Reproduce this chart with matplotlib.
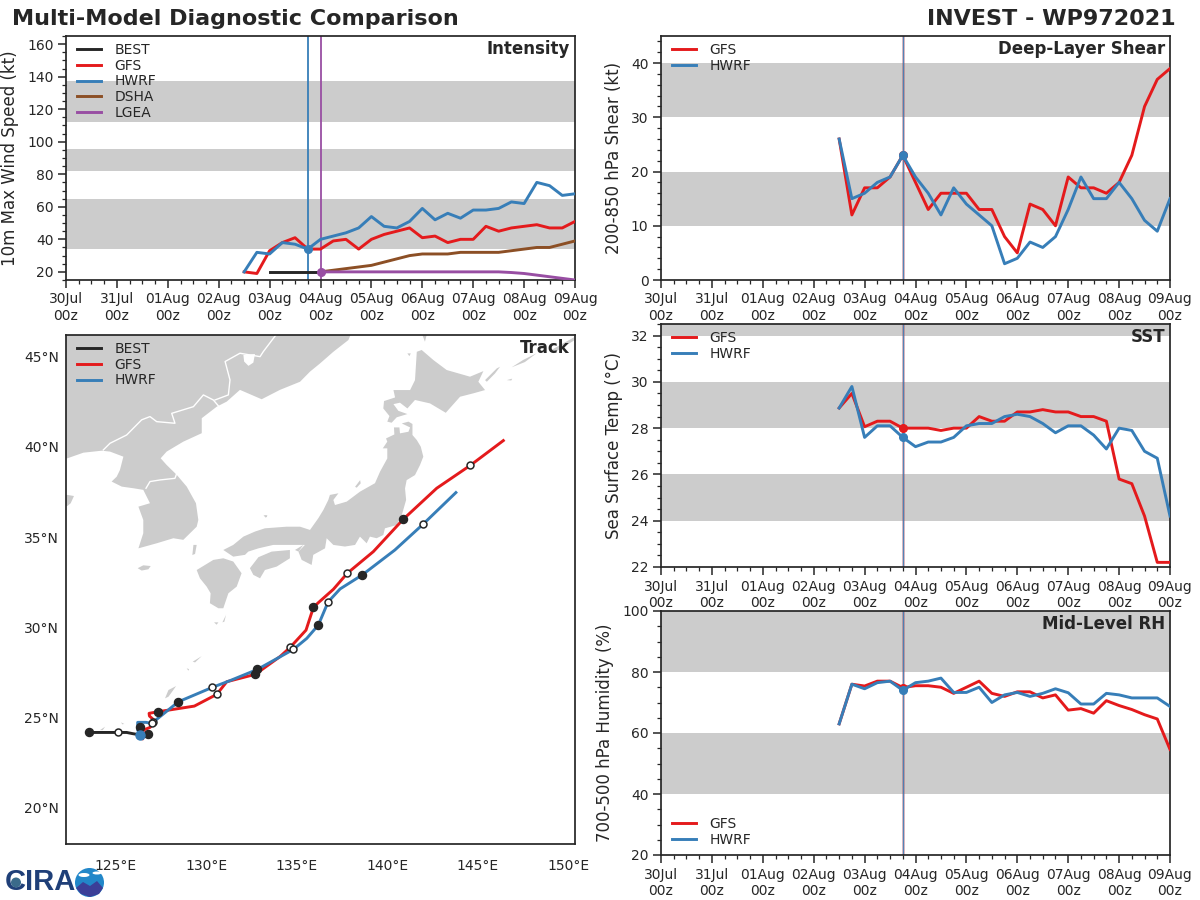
import pandas as pd
import matplotlib
matplotlib.use('Agg')
import matplotlib.pyplot as plt
import matplotlib.dates as mdates
from matplotlib.patches import Circle, Ellipse, Polygon
from matplotlib.ticker import AutoMinorLocator, MultipleLocator

# 6-hourly forecast times
times = pd.date_range('2021-08-02 12:00', '2021-08-09 00:00', freq='6h')
t_best = pd.date_range('2021-08-03 00:00', '2021-08-04 00:00', freq='6h')
t_stat = pd.date_range('2021-08-04 00:00', '2021-08-09 00:00', freq='6h')
t_hwrf = pd.Timestamp('2021-08-03 18:00')
t_lgea = pd.Timestamp('2021-08-04 00:00')

# intensity (kt)
best_vmax = [20, 20, 20, 20, 20]
gfs_vmax = [20, 19, 33, 38, 41, 34, 34, 39, 40, 34, 40, 43, 45, 47, 41, 42, 38, 40, 40, 48, 45, 47, 48, 49, 47, 47, 51]
hwrf_vmax = [20, 32, 31, 38, 37, 34, 40, 42, 44, 47, 54, 48, 47, 51, 59, 52, 56, 53, 58, 58, 59, 63, 62, 75, 73, 67, 68]
dsha_vmax = [20, 21, 22, 23, 24, 26, 28, 30, 31, 31, 31, 32, 32, 32, 32, 33, 34, 35, 35, 37, 39]
lgea_vmax = [20, 20, 20, 20, 20, 20, 20, 20, 20, 20, 20, 20, 20, 20, 20, 19.6, 19, 18, 17, 16, 15]

# shear (kt)
gfs_shear = [26, 12, 17, 17, 19, 23, 18, 13, 16, 16, 16, 13, 13, 8, 5, 14, 13, 10, 19, 17, 17, 16, 18, 23, 32, 37, 39]
hwrf_shear = [26, 15, 16, 18, 19, 23, 19, 16, 12, 17, 14, 12, 10, 3, 4, 7, 6, 8, 13, 19, 15, 15, 18, 15, 11, 9, 15]

# sst (C)
gfs_sst = [28.87, 29.5, 28.06, 28.3, 28.3, 28.0, 28.0, 28.0, 27.9, 28.0, 28.0, 28.5, 28.3, 28.3, 28.7, 28.7, 28.8, 28.7,
           28.7, 28.5, 28.5, 28.3, 25.8, 25.6, 24.2, 22.2, 22.2]
hwrf_sst = [28.87, 29.8, 27.6, 28.1, 28.1, 27.6, 27.2, 27.4, 27.4, 27.6, 28.1, 28.2, 28.2, 28.5, 28.6, 28.5, 28.2, 27.8,
            28.1, 28.1, 27.7, 27.1, 28.0, 27.9, 27.0, 26.7, 24.2]

# rh (%)
gfs_rh = [63, 76, 75.4, 77, 77, 74.9, 75.5, 75.5, 75, 73, 75, 77, 73, 72, 73.5, 73.5, 71.5, 72.5, 67.5, 68, 66.5, 70.6,
          69, 67.7, 66, 64.6, 54.6]
hwrf_rh = [63, 76, 74.5, 76.5, 77, 74, 76.5, 77, 78, 73.3, 73.3, 75, 70, 72.5, 73.3, 72, 73, 74.5, 73.2, 69.5, 69.5,
           73, 72.5, 71.5, 71.5, 71.5, 68.7]

# tracks
best_lon = [123.54, 125.14, 125.6, 125.9, 126.36]
best_lat = [24.18, 24.18, 24.18, 24.12, 24.04]
gfs_lon = [126.39, 126.49, 126.52, 126.89, 127.17, 126.86, 126.84, 127.35, 129.34, 130.58, 131.13, 132.71, 134.07,
           134.63, 135.51, 135.92, 136.19, 137.02, 137.79, 139.23, 140.88, 142.73, 144.59, 146.41]
gfs_lat = [23.94, 23.82, 24.31, 24.46, 24.81, 25.09, 25.24, 25.33, 25.64, 26.29, 26.99, 27.4, 28.38, 28.89, 29.85,
           31.11, 31.37, 32.11, 33.0, 34.2, 35.99, 37.71, 38.98, 40.35]
hwrf_lon = [126.36, 126.21, 126.21, 126.67, 126.98, 128.46, 130.34, 131.31, 132.82, 134.81, 135.55, 136.19, 136.73,
            137.39, 138.62, 140.42, 141.99, 143.79]
hwrf_lat = [24.04, 24.31, 24.74, 24.74, 24.68, 25.88, 26.68, 27.05, 27.67, 28.78, 29.39, 30.13, 31.41, 32.13, 32.91,
            34.29, 35.73, 37.47]

# 00z / 12z markers on the tracks
filled_lon = [123.54, 126.76, 127.35, 132.71, 135.92, 140.88, 126.36, 128.46, 132.82, 136.19, 138.62]
filled_lat = [24.18, 24.07, 25.33, 27.4, 31.11, 35.99, 24.5, 25.88, 27.67, 30.13, 32.91]
open_lon = [125.14, 127.08, 130.58, 134.63, 137.79, 144.59, 126.98, 130.34, 134.81, 136.73, 141.99]
open_lat = [24.18, 24.78, 26.29, 28.89, 33.0, 38.98, 24.68, 26.68, 28.78, 31.41, 35.73]

# land outlines, lon/lat
asia = [(121, 39.37), (122.33, 39.37), (123.21, 39.68), (124.22, 39.79), (124.68, 39.74), (125.42, 39.46),
        (125.23, 38.72), (125.05, 38.35), (124.77, 38.08), (125.33, 37.8), (125.97, 37.71), (126.52, 37.62),
        (126.89, 36.88), (126.25, 36.69), (126.52, 35.95), (126.52, 35.22), (126.25, 34.38), (127.26, 34.66),
        (128.18, 34.94), (128.73, 34.85), (129.47, 35.58), (129.56, 35.95), (129.43, 36.88), (128.92, 37.8),
        (128.37, 38.45), (127.81, 39.0), (127.48, 39.37), (127.81, 39.74), (128.73, 40.29), (129.75, 40.76),
        (129.75, 41.59), (130.58, 42.23), (131.13, 42.51), (131.86, 43.16), (133.06, 42.64), (134.07, 43.16),
        (135.18, 43.61), (135.73, 44.17), (136.29, 44.63), (137.02, 45.27), (137.85, 45.92), (138.3, 47), (121, 47)]
shandong = [(121, 37.34), (122.33, 37.34), (122.69, 37.28), (122.51, 36.88), (122.33, 36.73), (121, 36.73)]
honshu = [(139.93, 40.47), (140.39, 40.69), (140.37, 41.08), (140.67, 41.08), (140.7, 40.75), (141.17, 40.84),
          (141.26, 41.08), (140.8, 41.3), (141.17, 41.4), (141.39, 41.27), (141.39, 40.66), (141.63, 40.38),
          (141.85, 40.01), (141.99, 39.46), (141.81, 39.0), (141.53, 38.44), (141.07, 38.16), (140.98, 37.7),
          (141.04, 37.06), (140.8, 36.22), (140.52, 35.67), (139.87, 35.49), (139.78, 35.12), (139.41, 34.94),
          (139.04, 35.03), (138.86, 34.66), (138.49, 35.03), (138.22, 34.57), (137.66, 34.48), (137.02, 34.57),
          (136.65, 34.94), (136.56, 34.38), (135.91, 34.02), (135.82, 33.46), (135.27, 33.74), (135.09, 34.2),
          (135.45, 34.57), (134.9, 34.57), (133.7, 34.57), (132.88, 34.38), (132.32, 34.2), (132.14, 34.02),
          (131.49, 33.92), (130.94, 34.29), (131.49, 34.57), (132.05, 35.03), (132.69, 35.31), (133.24, 35.49),
          (134.44, 35.58), (135.18, 35.58), (135.73, 35.4), (136.19, 36.05), (136.47, 36.51), (136.74, 37.06),
          (136.83, 37.34), (137.3, 37.43), (137.02, 37.06), (137.11, 36.78), (137.76, 36.97), (138.49, 37.52),
          (139.32, 37.99), (139.6, 38.63), (140.0, 39.36), (140.0, 39.92), (139.75, 39.92), (140.0, 40.29)]
hokkaido = [(140.0, 41.4), (140.12, 41.71), (139.78, 42.13), (139.82, 42.54), (140.43, 42.74), (140.34, 43.15),
            (141.26, 43.15), (141.53, 43.7), (141.63, 45.27), (141.9, 45.37), (142.55, 44.81), (143.28, 44.26),
            (144.57, 43.89), (145.31, 44.2), (145.03, 43.61), (145.4, 43.15), (144.76, 42.97), (144.02, 42.78),
            (143.23, 41.89), (142.36, 42.41), (141.53, 42.6), (141.11, 42.13), (140.7, 42.45), (140.34, 42.37),
            (140.61, 42.0), (141.11, 41.82), (140.52, 41.64), (140.24, 41.34)]
kyushu = [(129.47, 33.18), (129.93, 33.46), (130.39, 33.74), (130.94, 33.83), (131.49, 33.65), (131.95, 33.0),
          (131.68, 32.26), (131.22, 31.89), (130.94, 31.06), (130.67, 31.06), (130.2, 31.34), (130.24, 31.89),
          (130.02, 32.26), (129.65, 32.72)]
shikoku = [(132.41, 33.28), (132.88, 33.89), (133.61, 34.2), (134.62, 34.29), (134.62, 33.83), (133.89, 33.37),
           (133.24, 33.18), (132.97, 32.72), (132.6, 32.91)]
small_islands = [
    [(126.21, 33.28), (126.52, 33.44), (126.93, 33.4), (126.8, 33.22), (126.43, 33.15)],
    [(129.29, 34.57), (129.47, 34.57), (129.38, 34.07), (129.23, 34.01)],
    [(133.15, 36.23), (133.37, 36.21), (133.34, 36.1)],
    [(133.19, 36.18), (133.37, 36.18), (133.28, 36.08)],
    [(134.9, 34.29), (135.36, 34.57), (135.09, 34.2)],
    [(138.22, 37.79), (138.5, 38.16), (138.53, 37.98), (138.31, 37.74)],
    [(141.11, 45.18), (141.3, 45.18), (141.22, 45.03)],
    [(145.4, 43.7), (146.05, 44.35), (146.23, 44.44), (145.95, 44.07), (145.5, 43.61)],
    [(146.6, 43.7), (146.9, 43.78), (146.85, 43.68)],
    [(146.87, 44.41), (147.51, 44.82), (148.25, 45.19), (147.6, 44.7)],
    [(148.99, 45.33), (150.31, 46.07), (150.31, 45.89), (149.17, 45.19)],
    [(141.9, 46.3), (142.2, 46.3), (142.08, 45.83)],
    [(130.89, 30.28), (131.09, 30.69), (131.0, 30.32)],
    [(130.43, 30.28), (130.67, 30.28), (130.57, 30.15)],
    [(129.25, 28.1), (129.75, 28.41), (129.56, 28.23), (129.38, 28.06)],
    [(128.92, 27.73), (129.05, 27.69), (129.01, 27.6)],
    [(127.72, 26.07), (127.91, 26.53), (128.33, 26.75), (128.18, 26.53), (127.91, 26.16)],
    [(125.29, 24.74), (125.47, 24.65), (125.36, 24.63)],
    [(124.13, 24.31), (124.41, 24.5), (124.28, 24.31)],
]
borders = [
    [(124.31, 39.83), (124.68, 40.2), (125.6, 40.66), (126.43, 41.5), (126.89, 41.68), (127.26, 41.4), (128.27, 41.31),
     (128.09, 41.86), (129.29, 42.23), (129.84, 42.88), (130.39, 42.6), (130.67, 42.27)],
    [(130.48, 42.6), (131.22, 42.88), (131.31, 43.71), (131.04, 44.73), (131.86, 45.19), (132.97, 45.0),
     (133.15, 45.28), (133.71, 46.02), (133.85, 46.2)],
    [(126.67, 37.71), (126.89, 38.08), (127.45, 38.17), (128.27, 38.26), (128.37, 38.54)],
]
khanka = [(132.05, 45.09), (132.69, 45.15), (132.6, 44.67), (132.33, 44.49), (132.09, 44.73)]

# tick labels
lon_ticks = [125, 130, 135, 140, 145, 150]
lat_ticks = [20, 25, 30, 35, 40, 45]

# shaded ranges
vmax_bands = [(34, 64.5), (82, 95.5), (112, 137.5)]
shear_bands = [(10, 20), (30, 40)]
sst_bands = [(24, 26), (28, 30), (32, 33)]
rh_bands = [(40, 60), (80, 100)]

RED = '#e41a1c'
BLUE = '#377eb8'
BROWN = '#8c4f25'
PURPLE = '#984ea3'
BLACK = '#262626'
GRAY = '#cccccc'
LW = 2.1

plt.rcParams['font.family'] = 'DejaVu Sans'
plt.rcParams['text.color'] = BLACK
plt.rcParams['axes.labelcolor'] = BLACK
plt.rcParams['axes.edgecolor'] = BLACK
plt.rcParams['xtick.color'] = BLACK
plt.rcParams['ytick.color'] = BLACK
plt.rcParams['axes.linewidth'] = 1.25

fig = plt.figure(figsize=(12, 9), dpi=100)


def panel(left, top, right, bottom):
    return fig.add_axes([left / 1200, 1 - bottom / 900, (right - left) / 1200, (bottom - top) / 900])


def add_legend(ax, loc='upper left'):
    # nudge a few pixels towards the axes edge
    h = ax.bbox.height
    anchor = (0, 1 + 4 / h) if loc == 'upper left' else (0, -3 / h)
    ax.legend(loc=loc, bbox_to_anchor=anchor, frameon=False, fontsize=10, labelspacing=0.12, handlelength=1.7,
              handletextpad=1.0, borderaxespad=0.2, borderpad=0.6)


def time_axis(ax, bands, ylim, ystep, ylabel, title):
    for lo, hi in bands:
        ax.axhspan(lo, hi, color=GRAY, lw=0, zorder=0)
    ax.set_xlim(pd.Timestamp('2021-07-30'), pd.Timestamp('2021-08-09'))
    ax.set_ylim(*ylim)
    ax.xaxis.set_major_locator(mdates.DayLocator())
    ax.xaxis.set_minor_locator(mdates.HourLocator(byhour=[6, 12, 18]))
    ax.xaxis.set_major_formatter(mdates.DateFormatter('%d%b\n%Hz'))
    ax.yaxis.set_major_locator(MultipleLocator(ystep))
    ax.yaxis.set_minor_locator(AutoMinorLocator())
    ax.tick_params(which='major', length=6, width=1.1, labelsize=10, pad=3)
    ax.tick_params(which='minor', length=3, width=0.9)
    ax.set_ylabel(ylabel, fontsize=12, labelpad=6)
    ax.text(0.99, 0.985, title, transform=ax.transAxes, ha='right', va='top', fontsize=12, fontweight='bold')


def models(ax, gfs, hwrf, loc='upper left'):
    ax.axvline(t_hwrf, color=RED, lw=1.8, alpha=0.35, zorder=2)
    ax.axvline(t_hwrf, color=BLUE, lw=1.0, alpha=0.85, zorder=2)
    ax.plot(times, gfs, color=RED, lw=LW, label='GFS', zorder=3)
    ax.plot(times, hwrf, color=BLUE, lw=LW, label='HWRF', zorder=4)
    i = list(times).index(t_hwrf)
    ax.plot(t_hwrf, gfs[i], 'o', color=RED, ms=5.5, zorder=3)
    ax.plot(t_hwrf, hwrf[i], 'o', color=BLUE, ms=5.5, zorder=4)
    add_legend(ax, loc)


# intensity
ax1 = panel(66, 36, 575, 280)
time_axis(ax1, vmax_bands, (15, 165), 20, '10m Max Wind Speed (kt)', 'Intensity')
ax1.axvline(t_hwrf, color=BLUE, lw=1.3, zorder=2)
ax1.axvline(t_lgea, color=PURPLE, lw=1.3, zorder=2)
ax1.plot(t_best, best_vmax, color=BLACK, lw=LW, label='BEST', zorder=3)
ax1.plot(times, gfs_vmax, color=RED, lw=LW, label='GFS', zorder=3)
ax1.plot(times, hwrf_vmax, color=BLUE, lw=LW, label='HWRF', zorder=4)
ax1.plot(t_stat, dsha_vmax, color=BROWN, lw=LW, label='DSHA', zorder=3)
ax1.plot(t_stat, lgea_vmax, color=PURPLE, lw=LW, label='LGEA', zorder=4)
ax1.plot(t_hwrf, hwrf_vmax[5], 'o', color=BLUE, ms=5.5, zorder=5)
ax1.plot(t_lgea, lgea_vmax[0], 'o', color=PURPLE, ms=5.5, zorder=5)
add_legend(ax1)

# shear
ax2 = panel(661, 36, 1170, 280)
time_axis(ax2, shear_bands, (0, 45), 10, '200-850 hPa Shear (kt)', 'Deep-Layer Shear')
models(ax2, gfs_shear, hwrf_shear)

# sst
ax3 = panel(661, 324, 1170, 567)
time_axis(ax3, sst_bands, (22, 32.5), 2, 'Sea Surface Temp (°C)', 'SST')
models(ax3, gfs_sst, hwrf_sst)

# rh
ax4 = panel(661, 611, 1170, 855)
time_axis(ax4, rh_bands, (20, 100), 20, '700-500 hPa Humidity (%)', 'Mid-Level RH')
models(ax4, gfs_rh, hwrf_rh, 'lower left')

# track map
ax5 = panel(66, 335, 575, 844)
for shape in [asia, shandong, honshu, hokkaido, kyushu, shikoku] + small_islands:
    ax5.add_patch(Polygon(shape, closed=True, fc=GRAY, ec='none', zorder=1))
ax5.add_patch(Polygon(khanka, closed=True, fc='white', ec='none', zorder=2))
for line in borders:
    ax5.plot([p[0] for p in line], [p[1] for p in line], color='white', lw=1.0, zorder=2)
ax5.plot(best_lon, best_lat, color=BLACK, lw=LW, label='BEST', zorder=3)
ax5.plot(gfs_lon, gfs_lat, color=RED, lw=LW, label='GFS', zorder=3)
ax5.plot(hwrf_lon, hwrf_lat, color=BLUE, lw=LW, label='HWRF', zorder=4)
ax5.plot(filled_lon, filled_lat, 'o', color=BLACK, ms=5.8, ls='none', zorder=5)
ax5.plot(open_lon, open_lat, 'o', mfc='white', mec=BLACK, mew=1.1, ms=5, ls='none', zorder=5)
ax5.plot(hwrf_lon[0], hwrf_lat[0], 'o', color=BLUE, ms=6.5, zorder=6)
ax5.set_xlim(122.25, 150.37)
ax5.set_ylim(18.0, 46.2)
ax5.set_xticks(lon_ticks)
ax5.set_xticklabels([f'{v}°E' for v in lon_ticks])
ax5.set_yticks(lat_ticks)
ax5.set_yticklabels([f'{v}°N' for v in lat_ticks])
ax5.tick_params(length=0, labelsize=10, pad=11)
ax5.tick_params(axis='y', pad=5)
ax5.text(0.99, 0.993, 'Track', transform=ax5.transAxes, ha='right', va='top', fontsize=12, fontweight='bold')
add_legend(ax5)

fig.text(12 / 1200, 1 - 19 / 900, 'Multi-Model Diagnostic Comparison', fontsize=16, fontweight='bold', va='center')
fig.text(1176 / 1200, 1 - 19 / 900, 'INVEST - WP972021', fontsize=16, fontweight='bold', va='center', ha='right')

# logo, roughly
logo = fig.add_axes([0, 0, 110 / 1200, 40 / 900])
logo.set_xlim(0, 110)
logo.set_ylim(40, 0)
logo.axis('off')
logo.text(5, 22.5, 'CIRA', fontsize=21, fontweight='bold', color='#1f3f78', va='center', family='Liberation Sans')
logo.add_patch(Circle((16, 22.5), 5, fc='#3a6a8a', ec='none', zorder=3))
logo.add_patch(Circle((89.5, 22.5), 14.5, fc='#2287c9', ec='none'))
lower = Polygon([(76, 28), (83, 22), (90, 26), (97, 21), (103, 28), (99, 34), (90, 37), (81, 34)], fc='#3b3f98',
                ec='none')
logo.add_patch(lower)
logo.add_patch(Ellipse((84, 15), 11, 4, fc='white', ec='none'))
logo.add_patch(Ellipse((97, 13), 9, 3, fc='white', ec='none'))

fig.savefig('out.png', dpi=100)
